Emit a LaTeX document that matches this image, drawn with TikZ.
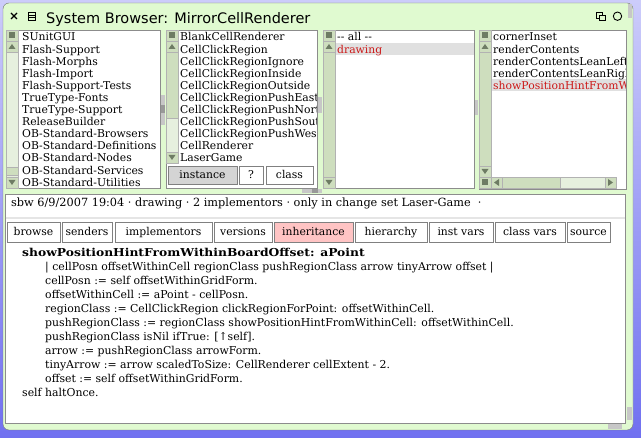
\documentclass[tikz,border=0pt]{standalone}
\usepackage{fontspec}
\setmainfont{DejaVu Serif}
\newfontfamily\titlefont{DejaVu Sans}
\usepackage{graphicx}
\usepackage{tikz}

\definecolor{bgtop}{RGB}{204,204,250}
\definecolor{bgbot}{RGB}{112,112,240}
\definecolor{winbg}{RGB}{224,250,208}
\definecolor{sbpale}{RGB}{230,240,222}
\definecolor{sbgreen}{RGB}{206,222,190}
\definecolor{sbdark}{RGB}{110,124,100}
\definecolor{hilite}{RGB}{224,224,224}
\definecolor{selred}{RGB}{204,24,24}
\definecolor{inhpink}{RGB}{255,196,196}
\definecolor{btngray}{RGB}{212,212,212}

\begin{document}
\begin{tikzpicture}[
  x=1pt, y=-1pt,
  font=\fontsize{10.8}{12}\selectfont,
  pane/.style={draw=black!45, fill=white},
  sbtrack/.style={draw=black!30, fill=sbpale},
  sbpart/.style={draw=black!30, fill=sbgreen},
  glyph/.style={fill=sbdark, draw=none},
  grip/.style={fill=black!22, draw=none},
  gripdark/.style={fill=black!40, draw=none},
  item/.style={anchor=base west, inner sep=0pt},
  picked/.style={item, text=selred},
  tab/.style={draw=black!50, inner sep=0pt, minimum height=20,
    text height=8, text depth=0},
  codeline/.style={anchor=base west, inner sep=0pt,
    font=\fontsize{10.9}{14}\selectfont},
]
\useasboundingbox (0,0) rectangle (641,438);

% --- Desktop + window frame ---
\shade[top color=bgtop, bottom color=bgbot] (0,0) rectangle (641,438);
\draw[draw=black!55, fill=winbg, rounded corners=6] (3,3) rectangle (633,430);

% --- Title bar ---
\draw[line width=1.3] (11,13) -- (17,19) (11,19) -- (17,13);
\draw[line width=0.9] (28.5,12.5) rectangle (35.5,20);
\draw[line width=0.7] (28.5,15) -- (35.5,15) (28.5,17.4) -- (35.5,17.4);
\node[anchor=base west, inner sep=0pt,
  font=\titlefont\fontsize{14.5}{16}\selectfont] (title) at (46,24)
  {System Browser: MirrorCellRenderer};
\draw[line width=0.9] (596.5,12.5) rectangle (602.5,18.5);
\draw[line width=0.9, fill=winbg] (599.5,15.5) rectangle (605.5,20.5);
\draw[line width=0.9] (617.5,16.2) circle (4.2);

% --- Four list panes ---
\draw[pane] (6,30) rectangle (160,188);
\draw[pane] (166,30) rectangle (317,188);
\draw[pane] (323,30) rectangle (474,188);
\draw[pane] (479,30) rectangle (626,189);

% --- Splitter grips ---
\fill[grip] (161,95) rectangle (165,125);
\fill[gripdark] (161,105) rectangle (165,113);
\fill[grip] (318,97) rectangle (322,113);
\fill[grip] (475,100) rectangle (478,115);
\fill[grip] (302,189.5) rectangle (322,193.5);
\fill[gripdark] (312,189.5) rectangle (318,193.5);
\fill[grip] (627,407) rectangle (632,420);
\fill[grip] (608,424.5) rectangle (622,429);
\fill[grip] (628,4) rectangle (632,18);

% --- Vertical scrollbars (left x / top / bottom / thumb) ---
\foreach \x/\top/\bot/\ta/\tb in {6/30/188/167/175, 166/30/163/52/118,
    323/30/188/52/177, 479/30/177/52/166, 6/245/422/267/404} {
  \draw[sbtrack] (\x,\top+22) rectangle (\x+12,\bot-11);
  \draw[sbpart] (\x,\ta) rectangle (\x+12,\tb);
  \draw[sbpart] (\x,\top) rectangle (\x+12,\top+11);
  \fill[glyph] (\x+3,\top+2.5) rectangle (\x+9,\top+8.5);
  \draw[sbpart] (\x,\top+11) rectangle (\x+12,\top+22);
  \fill[glyph] (\x+2.5,\top+19) -- (\x+9.5,\top+19) -- (\x+6,\top+14) -- cycle;
  \draw[sbpart] (\x,\bot-11) rectangle (\x+12,\bot);
  \fill[glyph] (\x+2.5,\bot-8) -- (\x+9.5,\bot-8) -- (\x+6,\bot-3) -- cycle;
}

% --- Horizontal scrollbar of the method pane ---
\draw[sbtrack] (502,177) rectangle (605,188);
\draw[sbpart] (502,177) rectangle (560,188);
\draw[sbpart] (479,177) rectangle (491,188);
\fill[glyph] (482,179.5) rectangle (488,185.5);
\draw[sbpart] (491,177) rectangle (502,188);
\fill[glyph] (499,179) -- (499,186) -- (494,182.5) -- cycle;
\draw[sbpart] (605,177) rectangle (616,188);
\fill[glyph] (608,179) -- (608,186) -- (613,182.5) -- cycle;

% --- Selection rows ---
\fill[hilite] (336,43) rectangle (473.5,55);
\fill[hilite] (492,79) rectangle (625.5,91);

% --- Package list ---
\begin{scope}
  \clip (18.5,30.5) rectangle (159.5,187.5);
  \foreach \t [count=\i from 0] in {SUnitGUI, Flash-Support, Flash-Morphs,
      Flash-Import, Flash-Support-Tests, TrueType-Fonts, TrueType-Support,
      ReleaseBuilder, OB-Standard-Browsers, OB-Standard-Definitions,
      OB-Standard-Nodes, OB-Standard-Services, OB-Standard-Utilities}
    \node[item] (pkg\i) at (22,41+12.1*\i) {\t};
\end{scope}

% --- Class list ---
\begin{scope}
  \clip (178.5,30.5) rectangle (316.5,164);
  \foreach \t [count=\i from 0] in {BlankCellRenderer, CellClickRegion,
      CellClickRegionIgnore, CellClickRegionInside, CellClickRegionOutside,
      CellClickRegionPushEast, CellClickRegionPushNorth,
      CellClickRegionPushSouth, CellClickRegionPushWest, CellRenderer,
      LaserGame}
    \node[item] (cls\i) at (180,41+12.1*\i) {\t};
\end{scope}
\node[tab, fill=btngray, minimum width=69, minimum height=18] (inst) at (202.5,175) {instance};
\node[tab, fill=white, minimum width=24, minimum height=18] (help) at (251,175) {?};
\node[tab, fill=white, minimum width=47, minimum height=18] (meta) at (289.5,175) {class};

% --- Category list ---
\begin{scope}
  \clip (335.5,30.5) rectangle (473.5,187.5);
  \node[item] (cat0) at (337,41) {-{}- all -{}-};
  \node[picked] (cat1) at (337,53.1) {drawing};
\end{scope}

% --- Method list ---
\begin{scope}
  \clip (491.5,30.5) rectangle (625.5,176.5);
  \foreach \t [count=\i from 0] in {cornerInset, renderContents,
      renderContentsLeanLeft, renderContentsLeanRight}
    \node[item] (sel\i) at (493,41+12.1*\i) {\t};
  \node[picked] (sel4) at (493,89.4) {showPositionHintFromWithinBoardOffset:};
\end{scope}

% --- Status line + button bar ---
\draw[pane] (5,194) rectangle (625,423);
\draw[black!10, line width=2] (5.5,218.5) -- (624.5,218.5);
\node[item, font=\fontsize{11.3}{12}\selectfont] (status) at (11,207)
  {sbw 6/9/2007 19:04 · drawing · 2 implementors · only in change set Laser-Game \ ·};
\foreach \a/\b/\t/\c [count=\i] in {7/60/browse/white, 62/112/senders/white,
    115/212/implementors/white, 214/272/versions/white,
    274/353/inheritance/inhpink, 355/427/hierarchy/white,
    429/493/inst vars/white, 495/565/class vars/white, 567/610/source/white}
  \node[tab, fill=\c, minimum width=\b-\a] (tab\i) at ({(\a+\b)/2},232) {\t};

% --- Source code ---
\node[codeline, font=\fontsize{10.9}{14}\selectfont\bfseries] (sig) at (22,257)
  {\scalebox{1.13}[1]{showPositionHintFromWithinBoardOffset: aPoint}};
\foreach \t [count=\i] in {
    {| cellPosn offsetWithinCell regionClass pushRegionClass arrow tinyArrow offset |},
    {cellPosn := self offsetWithinGridForm.},
    {offsetWithinCell := aPoint - cellPosn.},
    {regionClass := CellClickRegion clickRegionForPoint: offsetWithinCell.},
    {pushRegionClass := regionClass showPositionHintFromWithinCell: offsetWithinCell.},
    {pushRegionClass isNil ifTrue: [↑self].},
    {arrow := pushRegionClass arrowForm.},
    {tinyArrow := arrow scaledToSize: CellRenderer cellExtent - 2.},
    {offset := self offsetWithinGridForm.}}
  \node[codeline] (code\i) at (45,257+14*\i) {\t};
\node[codeline] (halt) at (22,397) {self haltOnce.};

\end{tikzpicture}
\end{document}
